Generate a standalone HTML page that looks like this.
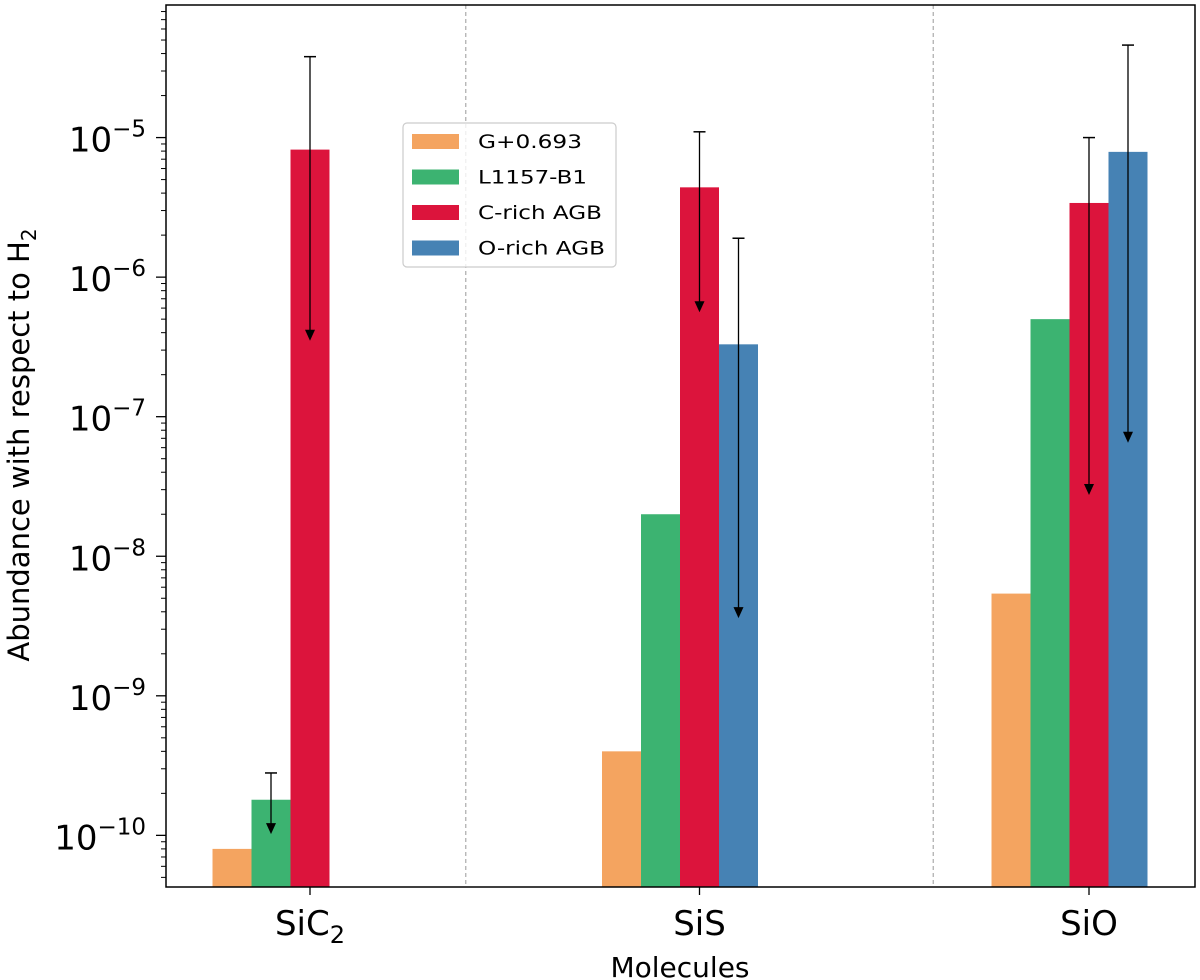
<!DOCTYPE html>
<html><head><meta charset="utf-8"><style>
html,body{margin:0;padding:0;background:#fff;}
svg{display:block;font-family:"DejaVu Sans","Liberation Sans",sans-serif;}
</style></head><body>
<svg id="chart" width="1200" height="980" viewBox="0 0 1200 980"></svg>
<script>
const molecules = ["SiC2", "SiS", "SiO"];
const seriesNames = ["G+0.693", "L1157-B1", "C-rich AGB", "O-rich AGB"];
const seriesColors = ["#f4a460", "#3cb371", "#dc143c", "#4682b4"];
const gValues = [8e-11, 4e-10, 5.4e-9];
const lValues = [1.8e-10, 2e-8, 5e-7];
const cValues = [8.2e-6, 4.4e-6, 3.4e-6];
const oValues = [null, 3.3e-7, 7.9e-6];
const errTop = [2.8e-10, 3.8e-5, 1.1e-5, 1.9e-6, 1e-5, 4.6e-5];
const errTip = [1.02e-10, 3.5e-7, 5.6e-7, 3.6e-9, 2.75e-8, 6.5e-8];
const errMol = [0, 0, 1, 1, 2, 2];
const errSer = [1, 2, 2, 3, 2, 3];
const yTickExps = [-10, -9, -8, -7, -6, -5];

const NS = "http://www.w3.org/2000/svg";
const svg = document.getElementById("chart");
const L = 166, R = 1195, T = 5, B = 887;
const yMin = -10.37, yMax = -4.05;
function y(v){ return B - (Math.log10(v) - yMin) / (yMax - yMin) * (B - T); }
function xc(i){ return 310 + i * 389.5; }
const bw = 39;
function el(tag, attrs, parent){
  const e = document.createElementNS(NS, tag);
  for (const k in attrs) e.setAttribute(k, attrs[k]);
  (parent || svg).appendChild(e);
  return e;
}
[0.4, 1.6].forEach(function(d){
  const xx = 310 + d * 389.5;
  const ln = el("line", {x1: xx, x2: xx, y1: T, y2: B, stroke: "#999", "stroke-width": 1, "stroke-dasharray": "4,3"});
  
  
});
const allValues = [gValues, lValues, cValues, oValues];
for (let s = 0; s < 4; s++) {
  for (let m = 0; m < molecules.length; m++) {
    const v = allValues[s][m];
    if (v == null) continue;
    const x0 = xc(m) + (s - 2) * bw - bw / 2;
    const r = el("rect", {x: x0, y: y(v), width: bw, height: B - y(v), fill: seriesColors[s]});
    
    
  }
}
for (let k = 0; k < errTop.length; k++) {
  const xx = xc(errMol[k]) + (errSer[k] - 2) * bw;
  const yt = y(errTop[k]), yb = y(errTip[k]);
  const g = el("g", {});
  
  
  el("line", {x1: xx, x2: xx, y1: yt, y2: yb - 8, stroke: "#000", "stroke-width": 1.3}, g);
  el("line", {x1: xx - 6, x2: xx + 6, y1: yt, y2: yt, stroke: "#000", "stroke-width": 1.5}, g);
  el("polygon", {points: (xx-5)+","+(yb-11)+" "+(xx+5)+","+(yb-11)+" "+xx+","+yb, fill: "#000"}, g);
}
const fr = el("rect", {x: L, y: T, width: R - L, height: B - T, fill: "none", stroke: "#000", "stroke-width": 1.5});


for (let e = -11; e <= -4; e++) {
  for (let d = 1; d <= 9; d++) {
    const v = d * Math.pow(10, e);
    const lv = Math.log10(v);
    if (lv < yMin || lv > yMax) continue;
    const yy = y(v);
    el("line", {x1: L - (d === 1 ? 10 : 5), x2: L, y1: yy, y2: yy, stroke: "#000", "stroke-width": d === 1 ? 1.3 : 1});
  }
}
yTickExps.forEach(function(e){
  const yy = y(Math.pow(10, e));
  const t = el("text", {x: 146, y: yy + 14, "text-anchor": "end", "font-size": 34});
  
  
  const a = el("tspan", {}, t); a.textContent = "10";
  const b = el("tspan", {dy: -15, "font-size": 23}, t); b.textContent = "\u2212" + (-e);
});
const xLabels = [["SiC","2"],["SiS",""],["SiO",""]];
for (let m = 0; m < molecules.length; m++) {
  el("line", {x1: xc(m), x2: xc(m), y1: B, y2: B + 8, stroke: "#000", "stroke-width": 1.3});
  const t = el("text", {x: xc(m), y: 935, "text-anchor": "middle", "font-size": 34});
  
  
  const a = el("tspan", {}, t); a.textContent = xLabels[m][0];
  if (xLabels[m][1]) { const b = el("tspan", {dy: 8, "font-size": 24}, t); b.textContent = xLabels[m][1]; }
}
const xt = el("text", {x: 680, y: 977, "text-anchor": "middle", "font-size": 28});
xt.textContent = "Molecules";


const yt = el("text", {transform: "translate(29,445) rotate(-90)", "text-anchor": "middle", "font-size": 29});


const y1 = el("tspan", {}, yt); y1.textContent = "Abundance with respect to H";
const y2 = el("tspan", {dy: 7, "font-size": 20}, yt); y2.textContent = "2";
const lg = el("g", {});


el("rect", {x: 403, y: 123, width: 213, height: 144, rx: 4, fill: "rgba(255,255,255,0.8)", stroke: "#ccc", "stroke-width": 1.2}, lg);
const legendWidths = [104, 109, 124, 127];
for (let s = 0; s < 4; s++) {
  const cy = 141 + s * 35.5;
  const ge = el("g", {}, lg);
  
  
  el("rect", {x: 412, y: cy - 7, width: 47, height: 15, fill: seriesColors[s]}, ge);
  const t = el("text", {x: 478, y: cy + 7, "font-size": 19, textLength: legendWidths[s], lengthAdjust: "spacingAndGlyphs"}, ge);
  t.textContent = seriesNames[s];
}
</script>
</body></html>
